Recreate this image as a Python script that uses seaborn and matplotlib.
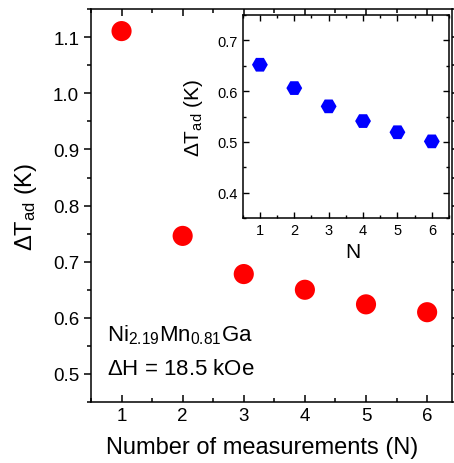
import matplotlib
matplotlib.use("Agg")
import matplotlib.pyplot as plt
from matplotlib.ticker import MultipleLocator, FormatStrFormatter
import seaborn as sns
import pandas as pd

# main panel: adiabatic temperature change vs number of measurements
n_main = [1, 2, 3, 4, 5, 6]
dT_main = [1.111, 0.746, 0.678, 0.650, 0.624, 0.610]

# inset panel
n_inset = [1, 2, 3, 4, 5, 6]
dT_inset = [0.652, 0.606, 0.570, 0.541, 0.519, 0.501]

sns.set_style("ticks")
plt.rcParams['font.family'] = ['Liberation Sans', 'DejaVu Sans']
plt.rcParams['mathtext.fontset'] = 'custom'
plt.rcParams['mathtext.rm'] = 'Liberation Sans'
plt.rcParams['mathtext.it'] = 'Liberation Sans'
plt.rcParams['axes.linewidth'] = 1.1
for k in ['text.color', 'axes.labelcolor', 'xtick.color', 'ytick.color', 'axes.edgecolor']:
    plt.rcParams[k] = 'black'

fig = plt.figure(figsize=(4.54, 4.64), dpi=100)
ax = fig.add_axes([0.2004, 0.1315, 0.7956, 0.8465])

df_main = pd.DataFrame({"N": n_main, "dT": dT_main})
sns.scatterplot(data=df_main, x="N", y="dT", ax=ax, color="#ff0000",
                s=210, edgecolor="none", legend=False, zorder=3)
ax.set_xlim(0.5, 6.41)
ax.set_ylim(0.45, 1.15)
ax.xaxis.set_major_locator(MultipleLocator(1))
ax.xaxis.set_minor_locator(MultipleLocator(0.5))
ax.yaxis.set_major_locator(MultipleLocator(0.1))
ax.yaxis.set_minor_locator(MultipleLocator(0.05))
ax.yaxis.set_major_formatter(FormatStrFormatter('%.1f'))
ax.tick_params(axis='both', which='major', labelsize=13.5, length=5, width=1.1)
ax.tick_params(axis='both', which='minor', length=3, width=1.1)
ax.tick_params(axis='x', which='both', direction='in', top=True)
ax.tick_params(axis='y', which='both', direction='out', right=True)
ax.set_xlabel("Number of measurements (N)", fontsize=17)
ax.set_ylabel(r"$\Delta$T$_{\rm ad}$ (K)", fontsize=17, labelpad=10)
ax.xaxis.set_label_coords(0.475, -0.087)
for sp in ax.spines.values():
    sp.set_visible(True)

ax.text(0.045, 0.173, r"Ni$_{2.19}$Mn$_{0.81}$Ga", transform=ax.transAxes,
        fontsize=16, va="center", ha="left")
ax.text(0.045, 0.0865, r"$\Delta$H = 18.5 kOe", transform=ax.transAxes,
        fontsize=16, va="center", ha="left")

# inset
axi = fig.add_axes([0.5346, 0.528, 0.4544, 0.4375])
df_inset = pd.DataFrame({"N": n_inset, "dT": dT_inset})
sns.scatterplot(data=df_inset, x="N", y="dT", ax=axi, color="#0000ff",
                marker="H", s=130, edgecolor="none", legend=False, zorder=3)
axi.set_xlim(0.5, 6.5)
axi.set_ylim(0.35, 0.75)
axi.xaxis.set_major_locator(MultipleLocator(1))
axi.xaxis.set_minor_locator(MultipleLocator(0.5))
axi.yaxis.set_major_locator(MultipleLocator(0.1))
axi.yaxis.set_minor_locator(MultipleLocator(0.05))
axi.yaxis.set_major_formatter(FormatStrFormatter('%.1f'))
axi.tick_params(axis='both', which='both', direction='in', top=True, right=True, width=1.0)
axi.tick_params(axis='both', which='major', labelsize=10.5, length=4)
axi.tick_params(axis='both', which='minor', length=2.5)
axi.set_xlabel("N", fontsize=15)
axi.xaxis.set_label_coords(0.535, -0.12)
axi.set_ylabel(r"$\Delta$T$_{\rm ad}$ (K)", fontsize=15, labelpad=9)

fig.savefig("out.png", dpi=100)
